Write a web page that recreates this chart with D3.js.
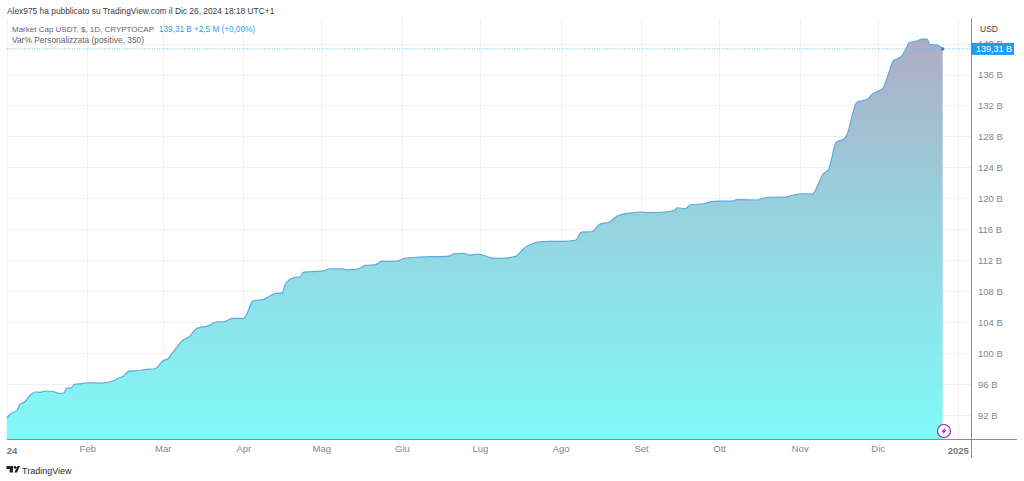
<!DOCTYPE html>
<html>
<head>
<meta charset="utf-8">
<script src="https://d3js.org/d3.v7.min.js"></script>
<style>
  html, body { margin: 0; padding: 0; background: #fff; }
  svg { display: block; font-family: "Liberation Sans", sans-serif; }
  .tick-label { font-size: 9.5px; fill: #83868e; }
</style>
</head>
<body>
<div id="chart"></div>
<script>
// Days since 2024-01-01
const days = [0,2,4,5,7,9,11,13,15,18,20,22,23,25,26,28,31,36,40,43,45,47,50,54,57,59,60,62,64,68,70,73,74,77,81,83,87,91,92,93,94,95,99,101,104,106,107,109,111,113,114,121,125,129,131,135,138,142,144,150,153,159,170,172,176,178,181,187,190,194,196,199,201,205,209,214,219,221,225,228,232,235,239,244,247,253,257,258,261,263,268,272,279,281,289,291,296,299,303,306,310,312,314,316,317,319,321,322,324,325,327,329,331,333,335,337,339,341,344,346,347,350,352,354,355,358,360];

// Market cap, billions of USD
const marketCap = [91.65,92.26,92.56,93.38,93.72,94.55,94.97,94.93,95.10,95.01,94.80,94.84,95.45,95.53,95.97,96.01,96.17,96.13,96.30,96.74,97.04,97.68,97.72,97.90,97.98,98.59,98.98,99.27,100.14,101.73,102.04,103.15,103.28,103.46,104.05,104.02,104.49,104.49,104.79,105.57,106.43,106.77,106.95,107.34,107.76,107.76,108.80,109.53,109.79,109.87,110.44,110.60,110.90,110.90,110.77,110.86,111.34,111.42,111.86,111.86,112.25,112.41,112.54,112.84,112.89,112.67,112.80,112.28,112.25,112.37,112.54,113.54,113.96,114.39,114.44,114.44,114.61,115.64,115.68,116.64,116.97,117.75,118.06,118.23,118.14,118.23,118.49,118.78,118.65,119.17,119.30,119.61,119.65,119.82,119.78,120.04,120.17,120.13,120.46,120.59,120.55,121.72,123.14,123.65,124.73,127.23,127.53,127.66,129.04,130.46,132.40,132.61,132.79,133.47,133.82,134.21,135.93,137.78,138.29,139.38,140.10,140.32,140.58,140.58,139.89,139.80,139.31];

const monthLabels = ['Feb','Mar','Apr','Mag','Giu','Lug','Ago','Set','Ott','Nov','Dic'];
const priceTicks = [92,96,100,104,108,112,116,120,124,128,132,136,140];
const lastPrice = 139.31;

const width = 1024;
const height = 481;
const plot = { left: 6.7, right: 971, top: 18, bottom: 439 };

const startDate = new Date(2024, 0, 1);
const endDate = new Date(2025, 0, 1);
const monthDates = monthLabels.map((m, i) => new Date(2024, i + 1, 1));
const points = days.map((d, i) => ({ date: d3.timeDay.offset(startDate, d), value: marketCap[i] }));

const x = d3.scaleTime().domain([startDate, endDate]).range([plot.left, 958.3]);
const y = d3.scaleLinear().domain([92, 136]).range([415, 74.5]);

const svg = d3.select('#chart')
  .append('svg')
  .attr('width', width)
  .attr('height', height);

// Area gradient
const gradient = svg.append('defs')
  .append('linearGradient')
  .attr('id', 'area-gradient')
  .attr('gradientUnits', 'userSpaceOnUse')
  .attr('x1', 0).attr('x2', 0)
  .attr('y1', y(140.6)).attr('y2', plot.bottom);

gradient.selectAll('stop')
  .data([
    { offset: 0, color: '#aeacc4' },
    { offset: 0.4, color: '#98cfdc' },
    { offset: 1, color: '#80fafa' }
  ])
  .enter()
  .append('stop')
  .attr('offset', d => d.offset)
  .attr('stop-color', d => d.color);

// Grid
const grid = svg.append('g').attr('class', 'grid').attr('stroke', '#eff1f6').attr('stroke-width', 1);

grid.selectAll('.h')
  .data(priceTicks)
  .enter()
  .append('line')
  .attr('x1', plot.left)
  .attr('x2', plot.right)
  .attr('y1', d => Math.round(y(d)) + 0.5)
  .attr('y2', d => Math.round(y(d)) + 0.5);

grid.selectAll('.v')
  .data([startDate, ...monthDates, endDate])
  .enter()
  .append('line')
  .attr('y1', plot.top)
  .attr('y2', plot.bottom)
  .attr('x1', d => Math.round(x(d)) + 0.5)
  .attr('x2', d => Math.round(x(d)) + 0.5);

// Area and line
svg.append('path')
  .datum(points)
  .attr('fill', 'url(#area-gradient)')
  .attr('d', d3.area().x(d => x(d.date)).y0(plot.bottom).y1(d => y(d.value)).curve(d3.curveMonotoneX));

svg.append('path')
  .datum(points)
  .attr('fill', 'none')
  .attr('stroke', '#5fa9e2')
  .attr('stroke-width', 1.2)
  .attr('stroke-linejoin', 'round')
  .attr('d', d3.line().x(d => x(d.date)).y(d => y(d.value)).curve(d3.curveMonotoneX));

// Bottom axis
const xAxis = d3.axisBottom(x)
  .tickValues(monthDates)
  .tickSize(0)
  .tickPadding(6)
  .tickFormat((d, i) => monthLabels[i]);

const xAxisG = svg.append('g')
  .attr('transform', `translate(0, ${plot.bottom})`)
  .call(xAxis);

xAxisG.select('.domain').remove();
xAxisG.selectAll('text').attr('class', 'tick-label').attr('font-family', null).attr('font-size', null);

xAxisG.append('text')
  .attr('x', 12).attr('y', 14.5)
  .attr('text-anchor', 'middle')
  .attr('font-size', 9.5).attr('font-weight', 700).attr('fill', '#74777f')
  .text('24');

xAxisG.append('text')
  .attr('x', x(endDate)).attr('y', 14.5)
  .attr('text-anchor', 'middle')
  .attr('font-size', 9.5).attr('font-weight', 700).attr('fill', '#74777f')
  .text('2025');

// Right axis
const yAxis = d3.axisRight(y)
  .tickValues(priceTicks)
  .tickSize(0)
  .tickPadding(7)
  .tickFormat(d => `${d} B`);

const yAxisG = svg.append('g')
  .attr('transform', `translate(${plot.right}, 0)`)
  .call(yAxis);

yAxisG.select('.domain').remove();
yAxisG.selectAll('text').attr('class', 'tick-label').attr('font-family', null).attr('font-size', null);

svg.append('line')
  .attr('x1', plot.left).attr('x2', 1017)
  .attr('y1', plot.bottom + 0.5).attr('y2', plot.bottom + 0.5)
  .attr('stroke', '#8b8d94');

svg.append('line')
  .attr('x1', plot.right + 0.5).attr('x2', plot.right + 0.5)
  .attr('y1', plot.top).attr('y2', 458)
  .attr('stroke', '#8b8d94');

svg.append('text')
  .attr('x', 980).attr('y', 32)
  .attr('font-size', 8.5).attr('fill', '#3c3f47')
  .text('USD');

// Last price line and label
svg.append('line')
  .attr('x1', plot.left).attr('x2', plot.right)
  .attr('y1', y(lastPrice)).attr('y2', y(lastPrice))
  .attr('stroke', '#6dbcf2')
  .attr('stroke-width', 1)
  .attr('stroke-dasharray', '1 1.5');

svg.append('circle')
  .attr('cx', x(points[points.length - 1].date))
  .attr('cy', y(lastPrice))
  .attr('r', 1.6)
  .attr('fill', '#1e88e5');

svg.append('rect')
  .attr('x', plot.right).attr('y', y(lastPrice) - 6)
  .attr('width', 43).attr('height', 12)
  .attr('fill', '#1e9bf3');

svg.append('text')
  .attr('x', plot.right + 23).attr('y', y(lastPrice) + 3.4)
  .attr('text-anchor', 'middle')
  .attr('font-size', 9).attr('fill', '#fff')
  .text('139,31 B');

// Header
svg.append('text')
  .attr('x', 7).attr('y', 13.5)
  .attr('font-size', 8.4).attr('fill', '#3a3d45')
  .text('Alex975 ha pubblicato su TradingView.com il Dic 26, 2024 18:18 UTC+1');

svg.append('text')
  .attr('x', 12).attr('y', 31.5)
  .attr('font-size', 8).attr('fill', '#5f626b')
  .text('Market Cap USDT, $, 1D, CRYPTOCAP');

svg.append('text')
  .attr('x', 159).attr('y', 31.5)
  .attr('font-size', 8.2).attr('fill', '#2b9ff0')
  .text('139,31 B');

svg.append('text')
  .attr('x', 194).attr('y', 31.5)
  .attr('font-size', 8.2).attr('fill', '#2b9ff0')
  .text('+2,5 M (+0,00%)');

svg.append('text')
  .attr('x', 12).attr('y', 42.5)
  .attr('font-size', 8.4).attr('fill', '#5f626b')
  .text('Var% Personalizzata (positive, 350)');

// Lightning badge
const badge = svg.append('g').attr('transform', 'translate(944, 431)');
badge.append('circle').attr('r', 6.5).attr('fill', '#fff').attr('stroke', '#8e24aa').attr('stroke-width', 1.1);
badge.append('path').attr('d', 'M2,-4 L-2.6,0.7 L-0.3,0.7 L-2,4 L2.6,-0.7 L0.3,-0.7 Z').attr('fill', '#8e24aa');

// TradingView logo
const logo = svg.append('g').attr('transform', 'translate(6.5, 466)').attr('fill', '#1f222a');
logo.append('path').attr('d', 'M0,0 H6.5 V6.5 H3.2 V3 H0 Z');
logo.append('circle').attr('cx', 8.6).attr('cy', 1.4).attr('r', 1.4);
logo.append('path').attr('d', 'M11,0 H13.5 L10.5,6.5 H7.8 Z');

svg.append('text')
  .attr('x', 22).attr('y', 473.5)
  .attr('font-size', 9).attr('fill', '#2a2d35')
  .text('TradingView');
</script>
</body>
</html>
